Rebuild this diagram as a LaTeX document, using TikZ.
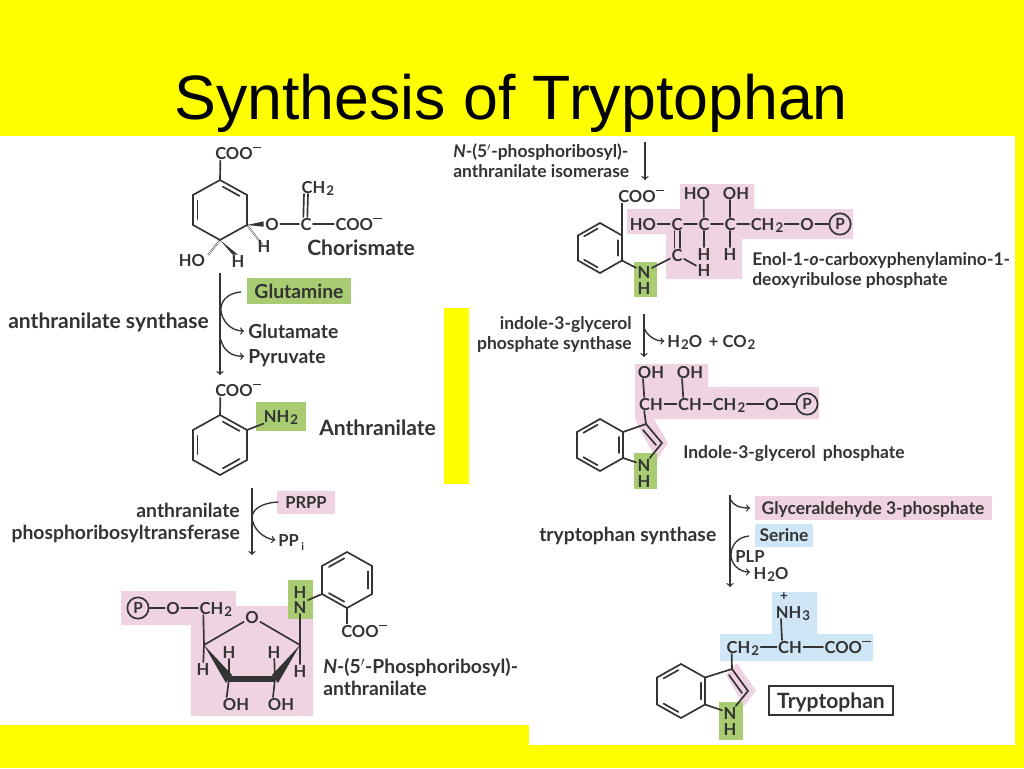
\documentclass[tikz,border=0pt]{standalone}
\usepackage{fontspec}
\setmainfont{Lato}
\newfontfamily\titlefont{Liberation Sans}
\usetikzlibrary{calc}
\definecolor{slide}{HTML}{FFFF00}
\definecolor{ink}{HTML}{333333}
\definecolor{pinkbg}{HTML}{EFD3E3}
\definecolor{greenbg}{HTML}{A9CB72}
\definecolor{bluebg}{HTML}{CFE6F7}
\def\subs#1{\kern0.8pt\raisebox{-0.35ex}{\fontsize{10}{12}\selectfont #1}}
\def\minussign{\kern0.3pt\raisebox{1.25ex}{\rule{0.5em}{0.11em}}}
% six ring: name, centre x, centre y, half width, half height
\def\hexring#1#2#3#4#5{
	\coordinate (#10) at (#2,#3);
	\coordinate (#11) at (#2,#3-#5);
	\coordinate (#12) at (#2+#4,#3-#5/2);
	\coordinate (#13) at (#2+#4,#3+#5/2);
	\coordinate (#14) at (#2,#3+#5);
	\coordinate (#15) at (#2-#4,#3+#5/2);
	\coordinate (#16) at (#2-#4,#3-#5/2);
	\draw[bond] (#11) -- (#12) -- (#13) -- (#14) -- (#15) -- (#16) -- cycle;
}
\def\innerbond#1#2#3{\draw[bond] ($(#1)!0.13!(#2)!0.17!(#3)$) -- ($(#2)!0.13!(#1)!0.17!(#3)$);}
\tikzset{
	bond/.style={line width=1.25pt, draw=ink, line cap=round},
	thin arrow/.style={line width=1pt, draw=ink, ->},
	txt/.style={inner sep=0pt, text=ink, font=\fontsize{12.4}{15}\selectfont\bfseries, text height=9pt, text depth=0pt},
	atom/.style={txt, inner xsep=1pt, inner ysep=0.5pt},
	smalltxt/.style={txt, font=\fontsize{13.1}{15}\selectfont\bfseries, text height=9.6pt},
	midtxt/.style={txt, font=\fontsize{14.5}{17}\selectfont\bfseries, text height=10.5pt},
	bigtxt/.style={txt, font=\fontsize{15.8}{18}\selectfont\bfseries, text height=11.4pt},
	pcircle/.style={circle, draw=ink, line width=1.25pt, inner sep=0pt, minimum size=16pt, text=ink, font=\fontsize{11.5}{14}\selectfont\bfseries},
}
\begin{document}
\begin{tikzpicture}[x=0.75pt,y=-0.75pt]
	\useasboundingbox (0,0) rectangle (1024,768);
	\fill[slide] (0,0) rectangle (1024,768);
	\fill[white] (0,136) rectangle (1015,725);
	\fill[white] (529,725) rectangle (1015,745);
	\fill[slide] (444,308) rectangle (469,484);
	\node[font=\fontsize{47}{50}\selectfont\titlefont, text=black, anchor=base, inner sep=0pt] (title) at (511,119) {Synthesis of Tryptophan};

	% highlights
	\fill[greenbg] (247,278) rectangle (351,304);
	\fill[greenbg] (256,402) rectangle (306,431);
	\fill[pinkbg] (277,491) rectangle (335,514);
	\fill[pinkbg] (121,591) -- (236,591) -- (236,606) -- (313,606) -- (313,716) -- (191,716) -- (191,625) -- (121,625) -- cycle;
	\fill[greenbg] (288,580) rectangle (313,619);
	\fill[pinkbg] (627,209) -- (680,209) -- (680,184) -- (754,184) -- (754,209) -- (853,209) -- (853,239) -- (742,239) -- (742,279) -- (666,279) -- (666,234) -- (627,234) -- cycle;
	\fill[greenbg] (634,262) rectangle (657,297);
	\fill[pinkbg] (635,364) -- (708,364) -- (708,387) -- (819,387) -- (819,419) -- (654,419) -- (668,443) -- (657,460) -- (640,430) -- (635,419) -- cycle;
	\fill[greenbg] (634,453) rectangle (657,489);
	\fill[pinkbg] (755,496) rectangle (992,520);
	\fill[bluebg] (755,524) rectangle (813,547);
	\fill[bluebg] (772,592) -- (817,592) -- (817,634) -- (873,634) -- (873,661) -- (720,661) -- (720,634) -- (772,634) -- cycle;
	\fill[pinkbg] (737,663) -- (756,691) -- (744,706) -- (726,675) -- cycle;
	\fill[greenbg] (719,702) rectangle (743,740);

	% chorismate
	\hexring{cho}{220}{210}{27}{30}
	\innerbond{cho1}{cho2}{cho0}
	\innerbond{cho6}{cho5}{cho0}
	\node[txt, anchor=west] (chocoo) at (215,153) {COO\minussign};
	\draw[bond] ([xshift=4pt,yshift=-1pt]chocoo.south west) -- (cho1);
	\node[atom] (choo) at (272,224) {O};
	\node[atom] (choc) at (306,224) {C};
	\node[atom, anchor=west] (chocooo) at (334,224) {COO\minussign};
	\node[atom, anchor=west] (choch) at (300,187) {CH\subs{2}};
	\fill[ink] (cho3) -- ([yshift=2pt]choo.west) -- ([yshift=-2pt]choo.west) -- cycle;
	\draw[bond] (choo) -- (choc);
	\draw[bond] (choc) -- (chocooo);
	\draw[bond] ([xshift=3pt]choch.south west) -- ([xshift=-2pt]choc.north);
	\draw[bond] ([xshift=6pt]choch.south west) -- ([xshift=1pt]choc.north);
	\node[txt] (choh) at (264,246) {H};
	\node[txt] (chohb) at (238,261) {H};
	\node[txt] (choho) at (192,260) {HO};
	\draw[line width=2pt, draw=ink, dash pattern=on 0.3pt off 0.9pt] (cho3) -- ([shift={(-1pt,-4pt)}]choh.north);
	\draw[line width=2.2pt, draw=ink, dash pattern=on 0.3pt off 0.9pt] (cho4) -- ([shift={(2pt,-1pt)}]choho.north east);
	\fill[ink] (cho4) -- ([xshift=-4pt]chohb.north) -- ([xshift=0pt]chohb.north) -- cycle;
	\node[bigtxt, anchor=west] (choname) at (307,248) {Chorismate};

	% step to anthranilate
	\node[bigtxt, anchor=west] (enzas) at (8,321) {anthranilate synthase};
	\node[midtxt] (glnname) at (299,291) {Glutamine};
	\node[midtxt, anchor=west] (gluname) at (248,331) {Glutamate};
	\node[midtxt, anchor=west] (pyrname) at (248,356) {Pyruvate};
	\coordinate (asa) at (220,273);
	\coordinate (asb) at (220,375);
	\coordinate (asc) at (241,292);
	\draw[thin arrow] (asa) -- (asb);
	\draw[thin arrow] (asc) .. controls (226,293) and (220,303) .. (221,311) .. controls (222,320) and (230,331) .. ([xshift=-3pt]gluname.west);
	\draw[thin arrow] (221,340) .. controls (223,350) and (232,357) .. ([xshift=-3pt]pyrname.west);

	% anthranilate
	\hexring{ant}{220}{445}{27}{30}
	\innerbond{ant1}{ant2}{ant0}
	\innerbond{ant6}{ant5}{ant0}
	\innerbond{ant3}{ant4}{ant0}
	\node[txt, anchor=west] (antcoo) at (215,390) {COO\minussign};
	\draw[bond] ([xshift=4pt,yshift=-1pt]antcoo.south west) -- (ant1);
	\node[txt] (antnh) at (281,416) {NH\subs{2}};
	\draw[bond] (ant2) -- ([yshift=-1pt]antnh.south west);
	\node[bigtxt, anchor=west] (antname) at (319,428) {Anthranilate};

	% step to phosphoribosyl anthranilate
	\node[midtxt, anchor=east] (enzpa) at (240,510) {anthranilate};
	\node[midtxt, anchor=east] (enzpb) at (240,532) {phosphoribosyltransferase};
	\node[txt] (prppname) at (306,502) {PRPP};
	\node[txt, anchor=west] (ppname) at (278,540) {PP\,\raisebox{-0.55ex}{\footnotesize i}};
	\coordinate (ptra) at (252,488);
	\coordinate (ptrb) at (252,555);
	\draw[thin arrow] (ptra) -- (ptrb);
	\draw[thin arrow] ([xshift=-5pt]prppname.west) .. controls (260,503) and (252,510) .. (252,518) .. controls (253,528) and (262,538) .. ([xshift=-2pt]ppname.west);

	% phosphoribosyl anthranilate
	\hexring{pra}{347}{580}{25}{28}
	\innerbond{pra6}{pra1}{pra0}
	\innerbond{pra2}{pra3}{pra0}
	\innerbond{pra5}{pra4}{pra0}
	\node[atom] (prah) at (300,592) {H};
	\node[atom] (pran) at (300,607) {N};
	\draw[bond] (pran.north east) -- (pra5);
	\node[txt, anchor=west] (pracoo) at (341,631) {COO\minussign};
	\draw[bond] ([xshift=4.5pt,yshift=1pt]pracoo.north west) -- (pra4);
	\node[pcircle] (prap) at (138,608) {P};
	\node[atom] (prao) at (173,608) {O};
	\node[atom, anchor=west] (prach) at (198,608) {CH\subs{2}};
	\draw[bond] (prap) -- (prao);
	\draw[bond] (prao) -- (prach);
	\node[atom] (rio) at (252,617) {O};
	\coordinate (ria) at (204,645);
	\coordinate (rib) at (229,679);
	\coordinate (ric) at (275,679);
	\coordinate (rid) at (300,645);
	\draw[bond] ([xshift=4pt]prach.south west) -- (ria);
	\draw[bond] (pran) -- (rid);
	\draw[bond] (rio) -- (ria);
	\draw[bond] (rio) -- (rid);
	\fill[ink] (ria) -- (226,683) -- (232,675) -- cycle;
	\fill[ink] (rid) -- (278,683) -- (272,675) -- cycle;
	\draw[line width=4.5pt, draw=ink] (rib) -- (ric);
	\node[atom] (rihb) at (229,652) {H};
	\node[atom] (rihc) at (274,652) {H};
	\node[atom] (riha) at (203,669) {H};
	\node[atom] (rihd) at (300,671) {H};
	\node[atom] (rioh) at (236,704) {OH};
	\node[atom] (riohb) at (281,704) {OH};
	\draw[bond] (rib) -- (rihb);
	\draw[bond] (ric) -- (rihc);
	\draw[bond] (ria) -- (riha);
	\draw[bond] (rid) -- (rihd);
	\draw[bond] (rib) -- ([xshift=-7pt]rioh.north);
	\draw[bond] (ric) -- ([xshift=-6pt]riohb.north);
	\node[midtxt, anchor=west] (praname) at (323,666) {\textit{N}-(5$'$-Phosphoribosyl)-};
	\node[midtxt, anchor=west] (pranameb) at (323,688) {anthranilate};

	% step to enol
	\node[smalltxt, anchor=west] (enzia) at (453,151) {\textit{N}-(5$'$-phosphoribosyl)-};
	\node[smalltxt, anchor=west] (enzib) at (453,171) {anthranilate isomerase};
	\coordinate (isoa) at (645,142);
	\coordinate (isob) at (645,180);
	\draw[thin arrow] (isoa) -- (isob);

	% enol phosphate
	\hexring{eno}{600}{248}{22}{25}
	\innerbond{eno6}{eno1}{eno0}
	\innerbond{eno2}{eno3}{eno0}
	\innerbond{eno5}{eno4}{eno0}
	\node[txt, anchor=west] (enocoo) at (618,196) {COO\minussign};
	\draw[bond] ([xshift=3pt,yshift=-1pt]enocoo.south west) -- (eno2);
	\node[atom] (enoho) at (643,224) {HO};
	\node[atom] (enoca) at (677,224) {C};
	\node[atom] (enocb) at (704,224) {C};
	\node[atom] (enocc) at (730,224) {C};
	\node[atom] (enoch) at (767,224) {CH\subs{2}};
	\node[atom] (enoo) at (807,224) {O};
	\node[pcircle] (enop) at (840,224) {P};
	\draw[bond] (enoho) -- (enoca);
	\draw[bond] (enoca) -- (enocb);
	\draw[bond] (enocb) -- (enocc);
	\draw[bond] (enocc) -- (enoch);
	\draw[bond] (enoch) -- (enoo);
	\draw[bond] (enoo) -- (enop);
	\node[atom] (enohob) at (697,193) {HO};
	\node[atom] (enooh) at (736,193) {OH};
	\draw[bond] ([xshift=5pt]enohob.south) -- (enocb);
	\draw[bond] ([xshift=-4.5pt]enooh.south) -- (enocc);
	\node[atom] (enocd) at (677,255) {C};
	\draw[bond] ([xshift=-2pt]enoca.south) -- ([xshift=-2pt]enocd.north);
	\draw[bond] ([xshift=2pt]enoca.south) -- ([xshift=2pt]enocd.north);
	\node[atom] (enoha) at (704,254) {H};
	\node[atom] (enohb) at (730,254) {H};
	\node[atom] (enohc) at (704,270) {H};
	\draw[bond] (enocb) -- (enoha);
	\draw[bond] (enocc) -- (enohb);
	\draw[bond] (enocd) -- (enohc);
	\node[atom] (enon) at (644,272) {N};
	\node[atom] (enonh) at (644,288) {H};
	\draw[bond] (eno3) -- (enon);
	\draw[bond] (enon) -- (enocd);
	\node[smalltxt, anchor=west] (enoname) at (752,259) {Enol-1-\textit{o}-carboxyphenylamino-1-};
	\node[smalltxt, anchor=west] (enonameb) at (752,279) {deoxyribulose phosphate};

	% step to indole glycerol phosphate
	\node[smalltxt, anchor=east] (enzga) at (632,323) {indole-3-glycerol};
	\node[smalltxt, anchor=east] (enzgb) at (632,343) {phosphate synthase};
	\node[txt, anchor=west] (igwater) at (667,341) {H\subs{2}O\, + CO\subs{2}};
	\coordinate (igsa) at (644,314);
	\coordinate (igsb) at (644,357);
	\draw[thin arrow] (igsa) -- (igsb);
	\draw[thin arrow] (644,328) .. controls (647,335) and (654,341) .. ([xshift=-2pt]igwater.west);

	% indole glycerol phosphate
	\hexring{igp}{600}{445}{23}{26}
	\innerbond{igp6}{igp1}{igp0}
	\innerbond{igp2}{igp3}{igp0}
	\innerbond{igp5}{igp4}{igp0}
	\coordinate (igpe) at (646,424);
	\coordinate (igpf) at (662,443);
	\node[atom] (igpn) at (644,465) {N};
	\node[atom] (igpnh) at (644,481) {H};
	\draw[bond] (igp2) -- (igpe) -- (igpf) -- (igpn);
	\draw[bond] (igp3) -- (igpn);
	\draw[bond] ($(igpe)+(-3,6)$) -- ($(igpf)+(-6,2)$);
	\node[atom] (igpcha) at (651,404) {CH};
	\node[atom] (igpchb) at (690,404) {CH};
	\node[atom] (igpchc) at (729,404) {CH\subs{2}};
	\node[atom] (igpo) at (772,404) {O};
	\node[pcircle] (igpp) at (807,404) {P};
	\draw[bond] (igpcha) -- (igpchb);
	\draw[bond] (igpchb) -- (igpchc);
	\draw[bond] (igpchc) -- (igpo);
	\draw[bond] (igpo) -- (igpp);
	\draw[bond] ([xshift=5pt]igpcha.south west) -- (igpe);
	\node[atom] (igpoh) at (651,372) {OH};
	\node[atom] (igpohb) at (690,372) {OH};
	\draw[bond] ([xshift=5pt]igpoh.south west) -- ([xshift=5pt]igpcha.north west);
	\draw[bond] ([xshift=5pt]igpohb.south west) -- ([xshift=5pt]igpchb.north west);
	\node[smalltxt, anchor=west] (igpname) at (683,452) {Indole-3-glycerol\, phosphate};

	% step to tryptophan
	\node[midtxt, anchor=west] (enzts) at (539,534) {tryptophan synthase};
	\node[smalltxt] (gapname) at (873,508) {Glyceraldehyde 3-phosphate};
	\node[smalltxt] (sername) at (784,535) {Serine};
	\node[txt] (plpname) at (750,556) {PLP};
	\node[txt] (watname) at (771,573) {H\subs{2}O};
	\coordinate (tsa) at (730,495);
	\coordinate (tsb) at (730,587);
	\draw[thin arrow] (tsa) -- (tsb);
	\draw[thin arrow] (731,500) .. controls (733,505) and (739,508) .. (750,508);
	\draw[thin arrow] (749,536) .. controls (737,537) and (731,546) .. (731,555) .. controls (731,564) and (739,572) .. (750,572);

	% tryptophan
	\hexring{trp}{681}{691}{24}{27}
	\innerbond{trp6}{trp1}{trp0}
	\innerbond{trp2}{trp3}{trp0}
	\innerbond{trp5}{trp4}{trp0}
	\coordinate (trpe) at (732,669);
	\coordinate (trpf) at (748,691);
	\node[atom] (trpn) at (730,713) {N};
	\node[atom] (trpnh) at (730,729) {H};
	\draw[bond] (trp2) -- (trpe) -- (trpf) -- (trpn);
	\draw[bond] (trp3) -- (trpn);
	\draw[bond] ($(trpe)+(-3,6)$) -- ($(trpf)+(-6,2)$);
	\node[atom, anchor=west] (trpcha) at (725,647) {CH\subs{2}};
	\node[atom] (trpchb) at (790,647) {CH};
	\node[atom, anchor=west] (trpcoo) at (823,647) {COO\minussign};
	\draw[bond] (trpcha) -- (trpchb);
	\draw[bond] (trpchb) -- (trpcoo);
	\draw[bond] ([xshift=5pt]trpcha.south west) -- (trpe);
	\node[atom] (trpnhh) at (793,612) {NH\subs{3}};
	\node[inner sep=0pt, text=ink, font=\fontsize{10}{12}\selectfont\bfseries] (trpplus) at (784,597) {+};
	\draw[bond] ([xshift=-9pt]trpnhh.south) -- ([xshift=-6pt]trpchb.north);
	\node[draw=ink, line width=1.25pt, bigtxt, minimum width=93pt, minimum height=21.5pt] (trpname) at (831,700.5) {Tryptophan};
\end{tikzpicture}
\end{document}
